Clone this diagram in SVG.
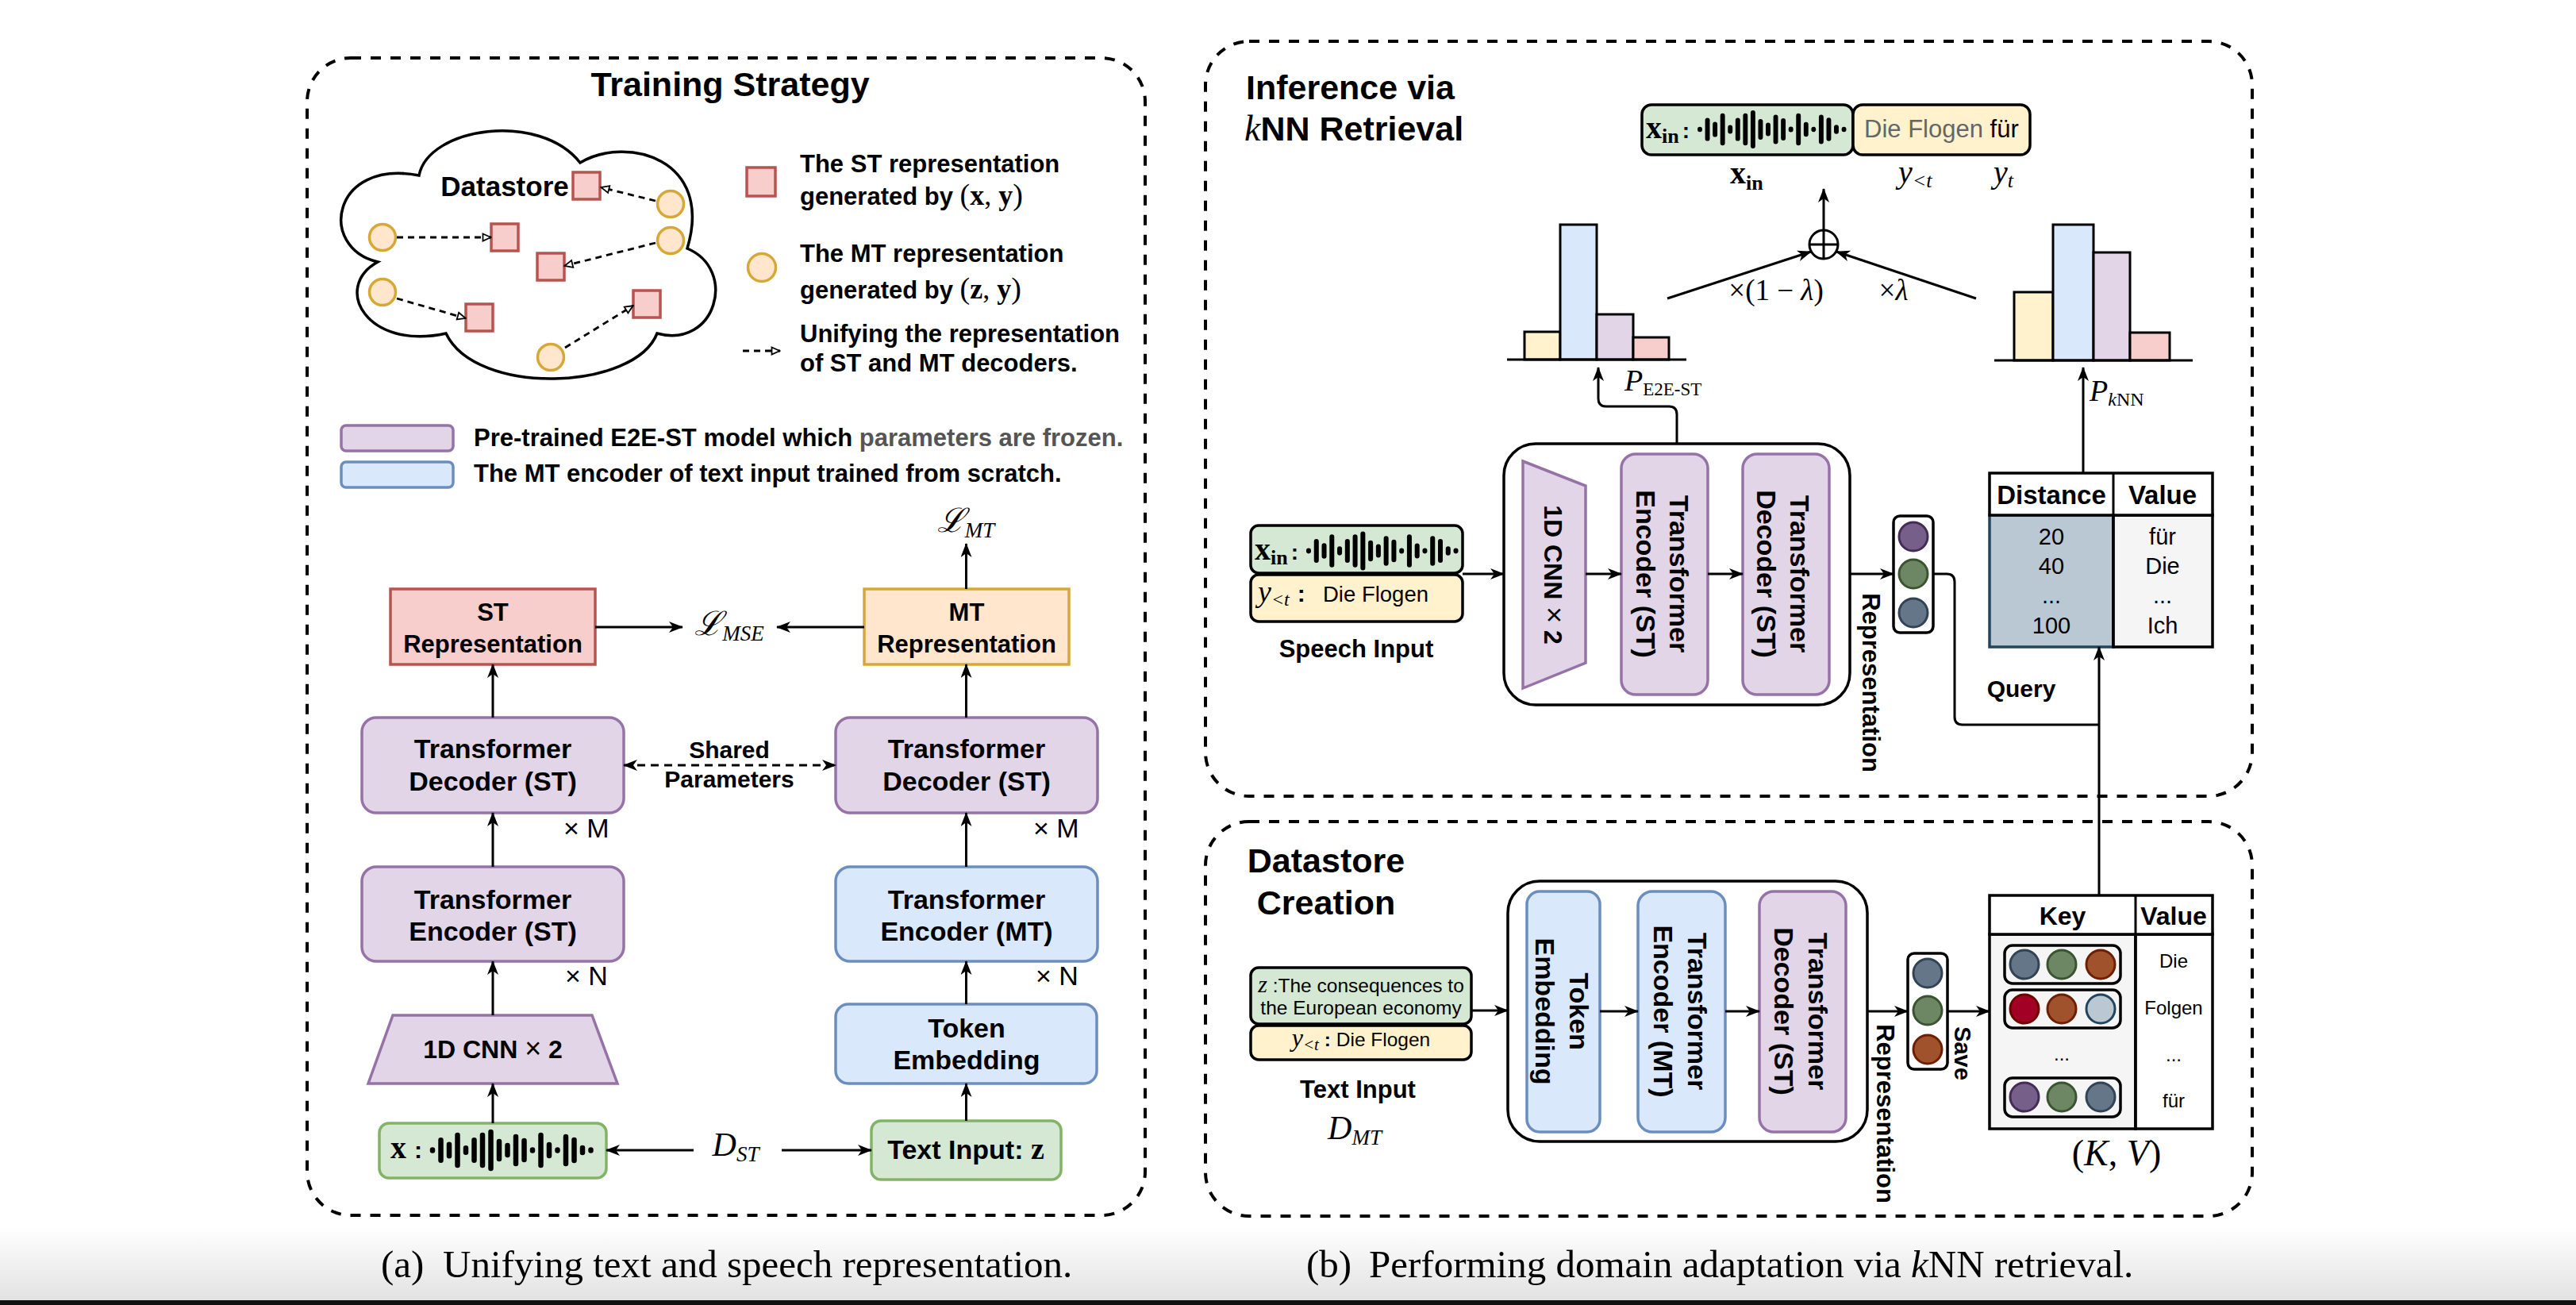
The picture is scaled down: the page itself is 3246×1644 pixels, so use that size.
<svg xmlns="http://www.w3.org/2000/svg" width="3246" height="1644" viewBox="0 0 3246 1644">
<defs>
<style>
.sb{font-family:"Liberation Sans",Arial,sans-serif;font-weight:bold;fill:#000}
.s{font-family:"Liberation Sans",Arial,sans-serif;fill:#000}
.m{font-family:"Liberation Serif","DejaVu Serif",serif;fill:#000}
.mi{font-family:"Liberation Serif","DejaVu Serif",serif;font-style:italic;fill:#000}
.mid{text-anchor:middle}
.panel{fill:none;stroke:#000;stroke-width:4;stroke-dasharray:13 12}
.ln{fill:none;stroke:#000;stroke-width:3}
.arr{fill:none;stroke:#000;stroke-width:3;marker-end:url(#ah)}
.darr{fill:none;stroke:#000;stroke-width:2.8;stroke-dasharray:8 6;marker-end:url(#oh)}
.pur{fill:#e1d5e7;stroke:#9673a6;stroke-width:3.5}
.blu{fill:#dae8fc;stroke:#6c8ebf;stroke-width:3.5}
.grn{fill:#d5e8d4;stroke:#82b366;stroke-width:3.5}
.pnk{fill:#f8cecc;stroke:#b85450;stroke-width:3.5}
.org{fill:#ffe6cc;stroke:#d6a838;stroke-width:3.5}
.bk{stroke:#000;stroke-width:3.5}
.cpu{fill:#76608a;stroke:#432d57;stroke-width:3}
.cgr{fill:#6d8764;stroke:#3a5431;stroke-width:3}
.cbg{fill:#647687;stroke:#314354;stroke-width:3}
.cbr{fill:#a0522d;stroke:#6d1f00;stroke-width:3}
.crd{fill:#a20025;stroke:#6f0000;stroke-width:3}
.clb{fill:#bac8d3;stroke:#23445d;stroke-width:3}
.bar{stroke:#000;stroke-width:3}
</style>
<linearGradient id="fade" x1="0" y1="0" x2="0" y2="1">
<stop offset="0" stop-color="#ffffff"/>
<stop offset="1" stop-color="#e2e2e2"/>
</linearGradient>
<marker id="ah" viewBox="0 0 18 14" refX="17" refY="7" markerWidth="18" markerHeight="14" markerUnits="userSpaceOnUse" orient="auto-start-reverse">
<path d="M0,0 L18,7 L0,14 L5,7 Z" fill="#000"/>
</marker>
<marker id="oh" viewBox="0 0 13 12" refX="12" refY="6" markerWidth="13" markerHeight="12" markerUnits="userSpaceOnUse" orient="auto">
<path d="M1.5,1.5 L11.5,6 L1.5,10.5 Z" fill="#fff" stroke="#000" stroke-width="1.8"/>
</marker>
<path id="wave" fill="none" stroke="#000" stroke-width="6.5" stroke-linecap="round" d="M0,-0.4V0.4 M10.5,-12.8V12.8 M21,-7.3V7.3 M31.5,-19V19 M42,-2.8V2.8 M52.5,-12.8V12.8 M63,-19V19 M73.5,-23V23 M84,-11V11 M94.5,-6V6 M105,-17V17 M115.5,-12V12 M126,-0.6V0.6 M136.5,-19V19 M147,-7V7 M157.5,-0.4V0.4 M168,-17V17 M178.5,-13V13 M189,-3V3 M199.5,-0.4V0.4"/>
</defs>

<rect x="0" y="0" width="3246" height="1644" fill="#fff"/>
<rect x="0" y="1545" width="3246" height="93" fill="url(#fade)"/>
<rect x="0" y="1638" width="3246" height="6" fill="#111"/>

<!-- ================= LEFT PANEL ================= -->
<g id="panel-training">
<rect class="panel" x="387" y="73" width="1056" height="1458" rx="55"/>
<text class="sb mid" x="920" y="121" font-size="43">Training Strategy</text>
</g>

<g id="cloud-datastore">
<path d="M528,221 C540,160 680,140 731,205 C790,170 900,200 866,313 C930,340 902,440 828,420 C800,492 600,500 562,420 C462,442 418,362 476,330 C400,312 418,200 528,221 Z" fill="#fff" stroke="#000" stroke-width="3.5"/>
<text class="sb mid" x="636" y="247" font-size="35">Datastore</text>
<rect class="pnk" x="722" y="217" width="34" height="34"/>
<rect class="pnk" x="619" y="282" width="34" height="34"/>
<rect class="pnk" x="677" y="319" width="34" height="34"/>
<rect class="pnk" x="587" y="383" width="34" height="34"/>
<rect class="pnk" x="798" y="366" width="34" height="34"/>
<circle class="org" cx="845" cy="257" r="16.5"/>
<circle class="org" cx="845" cy="303" r="16.5"/>
<circle class="org" cx="482" cy="299" r="16.5"/>
<circle class="org" cx="482" cy="368" r="16.5"/>
<circle class="org" cx="694" cy="450" r="16.5"/>
<path class="darr" d="M826,253 L757,236"/>
<path class="darr" d="M500,299 L619,299"/>
<path class="darr" d="M826,306 L711,335"/>
<path class="darr" d="M500,376 L587,401"/>
<path class="darr" d="M712,438 L798,385"/>
</g>

<g id="legend">
<rect class="pnk" x="941" y="211" width="36" height="36"/>
<text class="sb" x="1008" y="217" font-size="31">The ST representation</text>
<text class="sb" x="1008" y="258" font-size="31">generated by <tspan font-family="Liberation Serif, serif" font-weight="normal" font-size="38">(</tspan><tspan font-family="Liberation Serif, serif" font-size="36">x</tspan><tspan font-family="Liberation Serif, serif" font-weight="normal" font-size="36">, </tspan><tspan font-family="Liberation Serif, serif" font-size="36">y</tspan><tspan font-family="Liberation Serif, serif" font-weight="normal" font-size="38">)</tspan></text>
<circle class="org" cx="960" cy="337" r="17.5"/>
<text class="sb" x="1008" y="330" font-size="31">The MT representation</text>
<text class="sb" x="1008" y="376" font-size="31">generated by <tspan font-family="Liberation Serif, serif" font-weight="normal" font-size="38">(</tspan><tspan font-family="Liberation Serif, serif" font-size="36">z</tspan><tspan font-family="Liberation Serif, serif" font-weight="normal" font-size="36">, </tspan><tspan font-family="Liberation Serif, serif" font-size="36">y</tspan><tspan font-family="Liberation Serif, serif" font-weight="normal" font-size="38">)</tspan></text>
<path class="darr" d="M936,442 L983,442"/>
<text class="sb" x="1008" y="431" font-size="31">Unifying the representation</text>
<text class="sb" x="1008" y="468" font-size="31">of ST and MT decoders.</text>
<rect class="pur" x="430" y="536" width="141" height="32" rx="6"/>
<text class="sb" x="597" y="562" font-size="31">Pre-trained E2E-ST model which <tspan fill="#555">parameters are frozen.</tspan></text>
<rect class="blu" x="430" y="582" width="141" height="32" rx="6"/>
<text class="sb" x="597" y="607" font-size="31">The MT encoder of text input trained from scratch.</text>
</g>

<g id="st-rep">
<rect class="pnk" x="492" y="742" width="258" height="95"/>
<text class="sb mid" x="621" y="782" font-size="31">ST</text>
<text class="sb mid" x="621" y="822" font-size="31">Representation</text>
</g>
<g id="mt-rep">
<rect class="org" x="1089" y="742" width="258" height="95"/>
<text class="sb mid" x="1218" y="782" font-size="31">MT</text>
<text class="sb mid" x="1218" y="822" font-size="31">Representation</text>
</g>
<g id="dec-st-left">
<rect class="pur" x="456" y="904" width="330" height="120" rx="18"/>
<text class="sb mid" x="621" y="955" font-size="34">Transformer</text>
<text class="sb mid" x="621" y="996" font-size="34">Decoder (ST)</text>
<text class="s" x="710" y="1055" font-size="34">× M</text>
</g>
<g id="dec-st-right">
<rect class="pur" x="1053" y="904" width="330" height="120" rx="18"/>
<text class="sb mid" x="1218" y="955" font-size="34">Transformer</text>
<text class="sb mid" x="1218" y="996" font-size="34">Decoder (ST)</text>
<text class="s" x="1302" y="1055" font-size="34">× M</text>
</g>
<g id="enc-st">
<rect class="pur" x="456" y="1092" width="330" height="119" rx="18"/>
<text class="sb mid" x="621" y="1145" font-size="34">Transformer</text>
<text class="sb mid" x="621" y="1185" font-size="34">Encoder (ST)</text>
<text class="s" x="712" y="1241" font-size="34">× N</text>
</g>
<g id="enc-mt">
<rect class="blu" x="1053" y="1092" width="330" height="119" rx="18"/>
<text class="sb mid" x="1218" y="1145" font-size="34">Transformer</text>
<text class="sb mid" x="1218" y="1185" font-size="34">Encoder (MT)</text>
<text class="s" x="1305" y="1241" font-size="34">× N</text>
</g>
<g id="cnn-left">
<polygon class="pur" points="495,1279 746,1279 778,1365 464,1365"/>
<text class="sb mid" x="621" y="1333" font-size="32">1D CNN <tspan font-weight="normal" font-size="36">×</tspan> 2</text>
</g>
<g id="token-emb-left">
<rect class="blu" x="1053" y="1265" width="329" height="100" rx="16"/>
<text class="sb mid" x="1218" y="1307" font-size="34">Token</text>
<text class="sb mid" x="1218" y="1347" font-size="34">Embedding</text>
</g>
<g id="speech-x">
<rect class="grn" x="478" y="1415" width="286" height="69" rx="12"/>
<text x="492" y="1459"><tspan class="m" font-weight="bold" font-size="40">x</tspan><tspan class="sb" font-size="30" dx="10">:</tspan></text>
<use href="#wave" transform="translate(545,1449)"/>
</g>
<g id="text-z">
<rect class="grn" x="1098" y="1412" width="239" height="74" rx="12"/>
<text class="sb mid" x="1217" y="1460" font-size="34">Text Input: <tspan font-family="Liberation Serif, serif" font-size="38">z</tspan></text>
</g>
<g id="left-labels">
<text class="mi mid" x="1217" y="670" font-size="42">ℒ<tspan font-size="27" dy="7">MT</tspan></text>
<text class="mi mid" x="919" y="800" font-size="42">ℒ<tspan font-size="27" dy="7">MSE</tspan></text>
<text class="sb mid" x="919" y="955" font-size="30">Shared</text>
<text class="sb mid" x="919" y="992" font-size="30">Parameters</text>
<text class="mi mid" x="927" y="1456" font-size="42">D<tspan font-size="27" dy="7">ST</tspan></text>
</g>

<g id="left-connectors">
<path class="arr" d="M1217.5,742 V685"/>
<path class="arr" d="M750,790 H860"/>
<path class="arr" d="M1089,790 H979"/>
<path class="arr" d="M621,904 V837"/>
<path class="arr" d="M1217.5,904 V837"/>
<path d="M786,964 H1053" fill="none" stroke="#000" stroke-width="3" stroke-dasharray="10 7" marker-start="url(#ah)" marker-end="url(#ah)"/>
<path class="arr" d="M621,1092 V1024"/>
<path class="arr" d="M1217.5,1092 V1024"/>
<path class="arr" d="M621,1279 V1211"/>
<path class="arr" d="M1217.5,1265 V1211"/>
<path class="arr" d="M621,1415 V1365"/>
<path class="arr" d="M1217.5,1412 V1365"/>
<path class="arr" d="M874,1449 H764"/>
<path class="arr" d="M985,1449 H1098"/>
</g>

<text class="m" x="480" y="1609" font-size="49">(a)</text>
<text class="m" x="558" y="1609" font-size="49">Unifying text and speech representation.</text>

<!-- ================= RIGHT TOP PANEL ================= -->
<g id="panel-inference">
<rect class="panel" x="1519" y="52" width="1319" height="951" rx="55"/>
<text class="sb" x="1570" y="125" font-size="43">Inference via</text>
<text class="sb" x="1568" y="177" font-size="43"><tspan font-family="Liberation Serif, serif" font-style="italic" font-weight="normal" font-size="46">k</tspan>NN Retrieval</text>
</g>

<g id="xin-top">
<rect x="2069" y="132" width="266" height="63" rx="12" fill="#d5e8d4" class="bk"/>
<rect x="2335" y="132" width="223" height="63" rx="12" fill="#fff2cc" class="bk"/>
<text x="2074" y="174"><tspan class="m" font-weight="bold" font-size="40">x</tspan><tspan class="m" font-weight="bold" font-size="26" dy="6">in</tspan><tspan class="sb" font-size="28" dy="-6" dx="4">:</tspan></text>
<use href="#wave" transform="translate(2142,163) scale(0.91)"/>
<text class="s" x="2349" y="173" font-size="31" fill="#666"><tspan fill="#666">Die Flogen</tspan> <tspan fill="#000">für</tspan></text>
<text x="2180" y="231"><tspan class="m" font-weight="bold" font-size="40">x</tspan><tspan class="m" font-weight="bold" font-size="26" dy="8">in</tspan></text>
<text x="2392" y="230"><tspan class="mi" font-size="40">y</tspan><tspan class="mi" font-size="26" dy="6">&lt;t</tspan></text>
<text x="2512" y="230"><tspan class="mi" font-size="40">y</tspan><tspan class="mi" font-size="26" dy="6">t</tspan></text>
</g>

<g id="hist-e2e">
<rect class="bar" x="1921" y="418" width="45" height="35" fill="#fff2cc"/>
<rect class="bar" x="1966" y="283" width="46" height="170" fill="#dae8fc"/>
<rect class="bar" x="2012" y="396" width="46" height="57" fill="#e1d5e7"/>
<rect class="bar" x="2058" y="425" width="45" height="28" fill="#f8cecc"/>
<path class="ln" d="M1899,453 H2125" stroke-width="3.5"/>
<text x="2047" y="492"><tspan class="mi" font-size="38">P</tspan><tspan class="m" font-size="23" dy="6">E2E-ST</tspan></text>
</g>
<g id="hist-knn">
<rect class="bar" x="2538" y="368" width="49" height="86" fill="#fff2cc"/>
<rect class="bar" x="2587" y="283" width="51" height="171" fill="#dae8fc"/>
<rect class="bar" x="2638" y="318" width="46" height="136" fill="#e1d5e7"/>
<rect class="bar" x="2684" y="419" width="50" height="35" fill="#f8cecc"/>
<path class="ln" d="M2513,454 H2763" stroke-width="3.5"/>
<text x="2633" y="505"><tspan class="mi" font-size="38">P</tspan><tspan class="mi" font-size="24" dy="6">k</tspan><tspan class="m" font-size="24">NN</tspan></text>
</g>
<g id="oplus">
<circle cx="2298" cy="308" r="18" fill="#fff" stroke="#000" stroke-width="3"/>
<path class="ln" d="M2280,308 H2316 M2298,290 V326"/>
<text class="m mid" x="2238" y="378" font-size="37">×(1 − <tspan font-style="italic">λ</tspan>)</text>
<text class="m mid" x="2386" y="378" font-size="37">×<tspan font-style="italic">λ</tspan></text>
</g>

<g id="speech-input">
<rect x="1576" y="662" width="267" height="60" rx="10" fill="#d5e8d4" class="bk"/>
<rect x="1576" y="724" width="267" height="59" rx="10" fill="#fff2cc" class="bk"/>
<text x="1581" y="705"><tspan class="m" font-weight="bold" font-size="40">x</tspan><tspan class="m" font-weight="bold" font-size="26" dy="6">in</tspan><tspan class="sb" font-size="28" dy="-6" dx="4">:</tspan></text>
<use href="#wave" transform="translate(1649,694) scale(0.93)"/>
<text x="1585" y="758"><tspan class="mi" font-size="38">y</tspan><tspan class="mi" font-size="24" dy="5">&lt;t</tspan><tspan class="sb" font-size="30" dy="-5" dx="10">:</tspan><tspan class="s" font-size="27.5" x="1667">Die Flogen</tspan></text>
<text class="sb mid" x="1709" y="828" font-size="31">Speech Input</text>
</g>

<g id="st-model-inference">
<rect x="1895" y="559" width="436" height="329" rx="40" fill="#fff" class="bk"/>
<polygon class="pur" points="1919,581 1998,612 1998,835 1919,867"/>
<text class="sb mid" font-size="32" transform="translate(1958,724) rotate(90)" x="0" y="12">1D CNN <tspan font-weight="normal" font-size="36">×</tspan> 2</text>
<rect class="pur" x="2043" y="572" width="109" height="303" rx="18"/>
<text class="sb mid" font-size="34" transform="translate(2097,723) rotate(90)"><tspan x="0" y="-7">Transformer</tspan><tspan x="0" y="35">Encoder (ST)</tspan></text>
<rect class="pur" x="2196" y="572" width="109" height="303" rx="18"/>
<text class="sb mid" font-size="34" transform="translate(2250,723) rotate(90)"><tspan x="0" y="-6">Transformer</tspan><tspan x="0" y="36">Decoder (ST)</tspan></text>
</g>
<text class="sb mid" font-size="31" transform="translate(2358,860) rotate(90)" x="0" y="11">Representation</text>

<g id="vec-inference">
<rect x="2386" y="650" width="50" height="147" rx="8" fill="#fff" class="bk"/>
<circle class="cpu" cx="2411" cy="676" r="18"/>
<circle class="cgr" cx="2411" cy="723" r="18"/>
<circle class="cbg" cx="2411" cy="772" r="18"/>
</g>

<g id="distance-table">
<rect x="2507" y="649" width="156" height="166" fill="#bac8d3" stroke="#23445d" stroke-width="3.5"/>
<rect x="2663" y="649" width="125" height="166" fill="#f5f5f5" class="bk"/>
<rect x="2507" y="596" width="281" height="53" fill="#fff" class="bk"/>
<path class="ln" d="M2663,596 V815" stroke-width="3.5"/>
<text class="sb mid" x="2585" y="635" font-size="33">Distance</text>
<text class="sb mid" x="2725" y="635" font-size="33">Value</text>
<text class="s mid" x="2585" y="686" font-size="29">20</text>
<text class="s mid" x="2585" y="723" font-size="29">40</text>
<text class="s mid" x="2585" y="760" font-size="29">...</text>
<text class="s mid" x="2585" y="798" font-size="29">100</text>
<text class="s mid" x="2725" y="686" font-size="29">für</text>
<text class="s mid" x="2725" y="723" font-size="29">Die</text>
<text class="s mid" x="2725" y="760" font-size="29">...</text>
<text class="s mid" x="2725" y="798" font-size="29">Ich</text>
</g>
<text class="sb mid" x="2547" y="878" font-size="30">Query</text>

<!-- ================= RIGHT BOTTOM PANEL ================= -->
<g id="panel-datastore">
<rect class="panel" x="1519" y="1035" width="1319" height="497" rx="55"/>
<text class="sb mid" x="1671" y="1099" font-size="43">Datastore</text>
<text class="sb mid" x="1671" y="1152" font-size="43">Creation</text>
</g>

<g id="text-input">
<rect x="1576" y="1219" width="278" height="71" rx="10" fill="#d5e8d4" class="bk"/>
<rect x="1576" y="1292" width="278" height="43" rx="10" fill="#fff2cc" class="bk"/>
<text class="s mid" x="1715" y="1250" font-size="24.5"><tspan class="mi" font-size="30">z</tspan> :The consequences to</text>
<text class="s mid" x="1715" y="1278" font-size="24.5">the European economy</text>
<text class="s mid" x="1715" y="1318" font-size="24.5"><tspan class="mi" font-size="32">y</tspan><tspan class="mi" font-size="21" dy="5">&lt;t</tspan><tspan class="sb" dy="-5"> : </tspan>Die Flogen</text>
<text class="sb mid" x="1711" y="1383" font-size="31">Text Input</text>
<text class="mi mid" x="1707" y="1435" font-size="42">D<tspan font-size="27" dy="7">MT</tspan></text>
</g>

<g id="mt-model-datastore">
<rect x="1900" y="1110" width="453" height="328" rx="40" fill="#fff" class="bk"/>
<rect class="blu" x="1924" y="1123" width="92" height="303" rx="16"/>
<text class="sb mid" font-size="34" transform="translate(1970,1274) rotate(90)"><tspan x="0" y="-8">Token</tspan><tspan x="0" y="35">Embedding</tspan></text>
<rect class="blu" x="2064" y="1123" width="110" height="303" rx="18"/>
<text class="sb mid" font-size="34" transform="translate(2119,1274) rotate(90)"><tspan x="0" y="-8">Transformer</tspan><tspan x="0" y="35">Encoder (MT)</tspan></text>
<rect class="pur" x="2217" y="1123" width="109" height="303" rx="18"/>
<text class="sb mid" font-size="34" transform="translate(2271,1274) rotate(90)"><tspan x="0" y="-8">Transformer</tspan><tspan x="0" y="35">Decoder (ST)</tspan></text>
</g>
<text class="sb mid" font-size="31" transform="translate(2376,1403) rotate(90)" x="0" y="11">Representation</text>

<g id="vec-datastore">
<rect x="2404" y="1201" width="50" height="146" rx="8" fill="#fff" class="bk"/>
<circle class="cbg" cx="2429" cy="1226" r="18"/>
<circle class="cgr" cx="2429" cy="1273" r="18"/>
<circle class="cbr" cx="2429" cy="1322" r="18"/>
</g>
<text class="sb mid" font-size="29" transform="translate(2475,1327) rotate(90)" x="0" y="12">Save</text>

<g id="key-table">
<rect x="2507" y="1177" width="184" height="245" fill="#f5f5f5" class="bk"/>
<rect x="2691" y="1177" width="97" height="245" fill="#fff" class="bk"/>
<rect x="2507" y="1128" width="281" height="49" fill="#fff" class="bk"/>
<path class="ln" d="M2691,1128 V1422" stroke-width="3.5"/>
<text class="sb mid" x="2599" y="1165" font-size="32">Key</text>
<text class="sb mid" x="2739" y="1165" font-size="32">Value</text>
<rect x="2526" y="1191" width="146" height="48" rx="10" fill="#f5f5f5" class="bk"/>
<circle class="cbg" cx="2551" cy="1215" r="18"/>
<circle class="cgr" cx="2598" cy="1215" r="18"/>
<circle class="cbr" cx="2647" cy="1215" r="18"/>
<rect x="2526" y="1247" width="146" height="48" rx="10" fill="#f5f5f5" class="bk"/>
<circle class="crd" cx="2551" cy="1271" r="18"/>
<circle class="cbr" cx="2598" cy="1271" r="18"/>
<circle class="clb" cx="2647" cy="1271" r="18"/>
<text class="s mid" x="2598" y="1336" font-size="24">...</text>
<rect x="2526" y="1358" width="146" height="49" rx="10" fill="#f5f5f5" class="bk"/>
<circle class="cpu" cx="2551" cy="1382" r="18"/>
<circle class="cgr" cx="2598" cy="1382" r="18"/>
<circle class="cbg" cx="2647" cy="1382" r="18"/>
<text class="s mid" x="2739" y="1219" font-size="24">Die</text>
<text class="s mid" x="2739" y="1278" font-size="24">Folgen</text>
<text class="s mid" x="2739" y="1337" font-size="24">...</text>
<text class="s mid" x="2739" y="1395" font-size="24">für</text>
<text class="m mid" x="2667" y="1468" font-size="46">(<tspan font-style="italic">K</tspan>, <tspan font-style="italic">V</tspan>)</text>
</g>

<g id="right-connectors">
<path class="arr" d="M2101,376 L2282,317"/>
<path class="arr" d="M2490,376 L2314,317"/>
<path class="arr" d="M2298,290 V238"/>
<path class="arr" d="M2113,559 V522 Q2113,512 2103,512 H2024 Q2014,512 2014,502 V463"/>
<path class="arr" d="M2625,596 V463"/>
<path class="arr" d="M1843,723 H1895"/>
<path class="arr" d="M1998,723 H2043"/>
<path class="arr" d="M2152,723 H2196"/>
<path class="arr" d="M2331,723 H2386"/>
<path class="ln" d="M2436,723 H2453 Q2463,723 2463,733 V903 Q2463,913 2473,913 H2645"/>
<path class="arr" d="M2645,1128 V815"/>
<path class="arr" d="M1854,1273 H1900"/>
<path class="arr" d="M2016,1274 H2064"/>
<path class="arr" d="M2174,1274 H2217"/>
<path class="arr" d="M2353,1274 H2404"/>
<path class="arr" d="M2454,1274 H2507"/>
</g>

<text class="m" x="1646" y="1609" font-size="49">(b)</text>
<text class="m" x="1725" y="1609" font-size="49">Performing domain adaptation via <tspan font-style="italic">k</tspan>NN retrieval.</text>
</svg>
